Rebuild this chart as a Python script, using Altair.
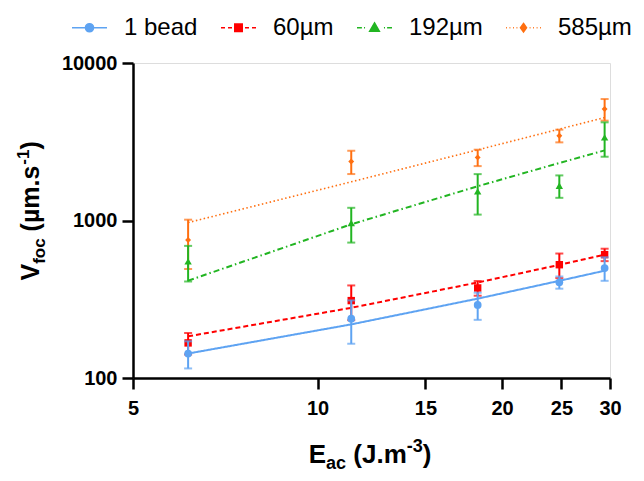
import altair as alt
import pandas as pd

# ---------------- data ----------------
series = ["1 bead", "60µm", "192µm", "585µm"]
colors = ["#5EA3F2", "#FF0000", "#22B522", "#FF6F10"]
e_ac = [6.15, 11.35, 18.25, 24.8, 29.4]

v_1bead = [143, 238, 291, 405, 499]
err_1bead = [28, 73, 57, 36, 85]
v_60 = [167, 310, 373, 524, 607]
err_60 = [26, 77, 40, 93, 55]
v_192 = [550, 964, 1530, 1663, 3370]
err_192 = [140, 240, 440, 270, 830]
v_585 = [752, 2372, 2515, 3454, 5105]
err_585 = [260, 400, 300, 320, 800]

fit_1bead = [143, 219, 319, 414, 480]
fit_60 = [184, 279, 404, 523, 607]
fit_192 = [415, 946, 1650, 2318, 2787]
fit_585 = [970, 1760, 2808, 3805, 4504]

x_ticks = [5, 10, 15, 20, 25, 30]
y_ticks = [100, 1000, 10000]

# ---------------- styles ----------------
shapes = ["circle", "square", "triangle-up", "diamond"]
sizes = [60, 55, 55, 35]
dashes = [[1, 0], [5, 3], [6, 3, 1.5, 3], [1.5, 2.5]]
widths = [2, 2, 2, 1.6]
legend_paths = [
    "M-1,0H1M0.23,0A0.23,0.23,0,1,1,-0.23,0A0.23,0.23,0,1,1,0.23,0Z",
    "M-1,0H-0.77M-0.6,0H-0.37M0.37,0H0.6M0.77,0H1M-0.21,-0.21H0.21V0.21H-0.21Z",
    "M-1,0H-0.72M-0.6,0H-0.54M0.54,0H0.6M0.72,0H1M0,-0.27L0.27,0.19H-0.27Z",
    "M-1,0H-0.95M-0.8,0H-0.75M-0.6,0H-0.55M-0.4,0H-0.35M0.35,0H0.4M0.55,0H0.6M0.75,0H0.8M0.95,0H1M0,-0.24L0.17,0L0,0.24L-0.17,0Z",
]

vals = [v_1bead, v_60, v_192, v_585]
errs = [err_1bead, err_60, err_192, err_585]
fits = [fit_1bead, fit_60, fit_192, fit_585]

rows = []
for s, v, er, f in zip(series, vals, errs, fits):
    for x, a, b, c in zip(e_ac, v, er, f):
        rows.append({"series": s, "e": x, "v": a, "lo": a - b, "hi": a + b, "fit": c})
df = pd.DataFrame(rows)

FONT = "Liberation Sans"

x_scale = alt.Scale(type="log", domain=[5, 30], nice=False)
y_scale = alt.Scale(type="log", domain=[100, 10000], nice=False)

axis_common = dict(
    title=None, format="d", grid=False, domainColor="black", domainWidth=2.5,
    tickColor="black", tickWidth=2.5, tickSize=11, labelFont=FONT,
    labelFontWeight="bold", labelFontSize=20, labelColor="black",
    labelFlush=False, labelOverlap=False,
)
X = lambda f="e": alt.X(f"{f}:Q", scale=x_scale,
                        axis=alt.Axis(values=x_ticks, labelPadding=9, **axis_common))
Y = lambda f: alt.Y(f"{f}:Q", scale=y_scale,
                    axis=alt.Axis(values=y_ticks, labelPadding=5, **axis_common))

layers = []
order = [3, 2, 1, 0]
for i in order:
    s = series[i]
    base = alt.Chart(df).transform_filter(alt.datum.series == s)
    layers.append(base.mark_line(color=colors[i], strokeDash=dashes[i], strokeWidth=widths[i])
                  .encode(x=X(), y=Y("fit")))
    layers.append(base.mark_rule(color=colors[i], strokeWidth=2)
                  .encode(x=X(), y=Y("lo"), y2="hi:Q"))
    layers.append(base.transform_fold(["lo", "hi"], as_=["k", "cap"])
                  .mark_tick(orient="horizontal", color=colors[i], size=8, thickness=2)
                  .encode(x=X(), y=Y("cap")))
    layers.append(base.mark_point(shape=shapes[i], filled=True, size=sizes[i],
                                  color=colors[i], opacity=1)
                  .encode(x=X(), y=Y("v")))

# legend-only layer (no visible marks)
leg = alt.Legend(
    title=None, orient="none", legendX=-62, legendY=-54, direction="horizontal",
    labelFont=FONT, labelFontSize=24, labelColor="black", symbolSize=1225,
    symbolStrokeWidth=1.6, labelOffset=16, columnPadding=19, padding=0,
    labelLimit=300,
)
leg_df = pd.DataFrame({"series": series})
layers.append(
    alt.Chart(leg_df).transform_filter("false")
    .mark_point(filled=True, strokeWidth=1.6, opacity=1)
    .encode(
        fill=alt.Fill("series:N", scale=alt.Scale(domain=series, range=colors), legend=leg),
        stroke=alt.Stroke("series:N", scale=alt.Scale(domain=series, range=colors), legend=leg),
        shape=alt.Shape("series:N", scale=alt.Scale(domain=series, range=legend_paths), legend=leg),
    )
)

# axis titles with sub/superscripts (text, baseline shift, font size, advance, gap before)
one = pd.DataFrame({"a": [0]})
def txt(t, x, y, size, angle=0):
    return alt.Chart(one).mark_text(
        text=t, font=FONT, fontSize=size, fontWeight="bold", color="black",
        align="left", baseline="alphabetic", angle=angle,
    ).encode(x=alt.value(x), y=alt.value(y))

x_title = [("E", 0, 26, 667, 0), ("ac", 6, 18, 1112, 0), ("(J.m", 0, 26, 2056, 278),
           ("-3", -11, 18, 889, 0), (")", 0, 26, 333, 0)]
cx, by = 175.7, 400
for t, dy, sz, w, gap in x_title:
    cx += gap * sz / 1000
    layers.append(txt(t, cx, by + dy, sz))
    cx += w * sz / 1000

y_title = [("V", 0, 25, 667, 0), ("foc", 6, 17, 1500, 0), ("(µm.s", 0, 25, 2667, 278),
           ("-1", -10, 17, 889, 0), (")", 0, 25, 333, 0)]
cy, bx = 217.5, -94
for t, dx, sz, w, gap in y_title:
    cy -= gap * sz / 1000
    layers.append(txt(t, bx + dx, cy, sz, angle=270))
    cy -= w * sz / 1000

chart = alt.layer(*layers).properties(
    width=477, height=315,
    autosize=alt.AutoSizeParams(type="none"),
    padding={"left": 125, "top": 55, "right": 26, "bottom": 95},
).configure_view(stroke=None).configure(background="white")

chart.save("out.html", embed_options={"renderer": "svg", "actions": False})
